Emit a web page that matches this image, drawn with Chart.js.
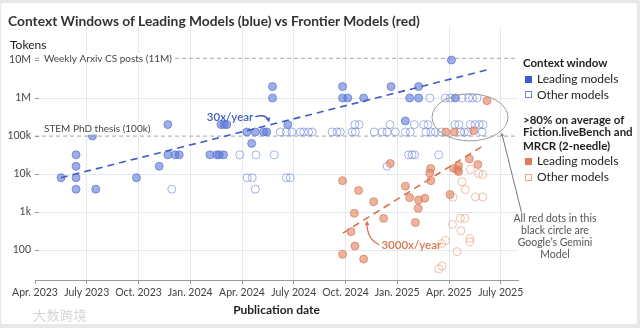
<!DOCTYPE html>
<html>
<head>
<meta charset="utf-8">
<script src="https://cdn.jsdelivr.net/npm/chart.js@4.4.1/dist/chart.umd.min.js"></script>
<style>
  html, body { margin: 0; padding: 0; background: #e8e8e8; }
  #wrap { position: relative; width: 640px; height: 328px; overflow: hidden; font-family: Lato, "Liberation Sans", sans-serif; }
  #card { position: absolute; left: 1px; top: 3px; width: 636px; height: 321px; background: #fff; border-radius: 3px; }
  #chart { position: absolute; left: 0; top: 0; }
  .abs { position: absolute; white-space: nowrap; }
  .title { left: 8px; top: 12px; font-size: 13.8px; font-weight: 700; color: #333; line-height: 18px; }
  .ylab { left: 10px; top: 37px; font-size: 12px; color: #1a1a1a; line-height: 16px; }
  .lg { left: 523px; font-size: 12px; color: #222; line-height: 14px; }
  .lg.head { font-weight: 700; font-size: 11.5px; color: #1f1f1f; }
  .sw { position: absolute; left: 525px; width: 7px; height: 7px; box-sizing: border-box; }
  .note { left: 505px; width: 100px; text-align: center; font-size: 10.5px; color: #555; line-height: 12px; white-space: normal; top: 212px; }
  .mark { left: 33px; top: 306px; font-family: "Noto Sans CJK SC", sans-serif; font-size: 13px; color: rgba(205,205,205,0.85); line-height: 18px; letter-spacing: 0.5px; }
</style>
</head>
<body>
<div id="wrap">
  <div id="card"></div>
  <canvas id="chart" width="640" height="328"></canvas>
  <div class="abs title">Context Windows of Leading Models (blue) vs Frontier Models (red)</div>
  <div class="abs ylab">Tokens</div>

  <div class="abs lg head" style="top:56px">Context window</div>
  <div class="sw" style="top:76px;background:#3d5bd0"></div>
  <div class="abs lg" style="left:537px;top:72px">Leading models</div>
  <div class="sw" style="top:91px;border:1px solid #6f84d8"></div>
  <div class="abs lg" style="left:537px;top:88px">Other models</div>

  <div class="abs lg head" style="top:113px">&gt;80% on average of</div>
  <div class="abs lg head" style="top:125px">Fiction.liveBench and</div>
  <div class="abs lg head" style="top:139px">MRCR (2-needle)</div>
  <div class="sw" style="top:158px;background:#e07a5a"></div>
  <div class="abs lg" style="left:537px;top:154px">Leading models</div>
  <div class="sw" style="top:174px;border:1px solid #eaa68d"></div>
  <div class="abs lg" style="left:537px;top:170px">Other models</div>

  <div class="abs note">All red dots in this black circle are Google’s Gemini Model</div>
  <div class="abs mark">大数跨境</div>
</div>

<script>
// Months are counted from April 2023 (0 = Apr. 2023).
const tickMonths = [0, 3, 6, 9, 12, 15, 18, 21, 24, 27];
const tickLabels = ['Apr. 2023', 'July 2023', 'Oct. 2023', 'Jan. 2024', 'Apr. 2024',
                    'July 2024', 'Oct. 2024', 'Jan. 2025', 'Apr. 2025', 'July 2025'];
const tokenTicks = [100, 1e3, 1e4, 1e5, 1e6, 1e7];
const tokenTickLabels = ['100', '1k', '10k', '100k', '1M', '10M'];

// Reference sizes drawn as dashed horizontal lines
const refTokens = [1.1e7, 1e5];
const refLabels = ['Weekly Arxiv CS posts (11M)', 'STEM PhD thesis (100k)'];

// Context window, leading models: [month, tokens]
const leadingContext = [
  [1.51, 8000], [2.38, 32000], [2.38, 16000], [2.38, 8000], [2.38, 4000],
  [3.33, 100000], [3.52, 4000], [5.88, 8000], [7.20, 16000], [7.70, 200000],
  [7.70, 32000], [8.12, 32000], [8.36, 32000], [10.14, 32000], [10.54, 32000],
  [10.68, 32000], [10.93, 32000], [10.78, 200000], [10.97, 200000], [11.12, 200000],
  [12.28, 128000], [12.77, 128000], [13.25, 128000], [13.43, 128000], [12.56, 64000],
  [13.77, 2000000], [13.77, 1000000], [14.65, 200000], [17.83, 2000000], [17.83, 1000000],
  [18.13, 1000000], [19.05, 1000000], [20.64, 2000000], [21.47, 250000], [21.72, 1000000],
  [22.24, 1000000], [22.24, 2000000], [24.14, 10000000], [24.37, 1000000]
];

// Context window, other models
const otherContext = [
  [7.93, 4000], [12.77, 4000],
  [12.30, 8000], [12.59, 8000], [14.57, 8000], [14.80, 8000],
  [20.41, 16000],
  [11.87, 32000], [12.81, 32000], [13.87, 32000], [21.66, 32000], [21.86, 32000],
  [22.01, 32000], [23.40, 32000],
  [14.22, 128000], [14.57, 128000], [14.90, 128000], [15.38, 128000], [15.58, 128000],
  [15.86, 128000], [16.07, 128000], [17.22, 128000], [17.51, 128000], [17.70, 128000],
  [18.38, 128000], [18.57, 128000], [19.67, 128000], [20.12, 128000], [20.41, 128000],
  [20.89, 128000], [21.47, 128000], [21.76, 128000], [22.66, 128000], [22.95, 128000],
  [23.21, 128000], [23.56, 128000], [24.66, 128000], [24.89, 128000], [25.10, 128000],
  [25.92, 128000],
  [18.54, 200000], [18.79, 200000], [20.58, 200000], [21.99, 200000], [22.54, 200000],
  [22.78, 200000], [24.34, 200000], [24.57, 200000], [25.24, 200000], [25.50, 200000],
  [25.75, 200000], [25.97, 200000],
  [22.89, 1000000], [23.79, 1000000], [24.08, 1000000], [24.76, 1000000],
  [25.14, 1000000], [25.36, 1000000], [25.63, 1000000]
];

// >80% on Fiction.liveBench and MRCR, leading models
const leadingRecall = [
  [17.83, 6700], [18.76, 3700], [19.63, 1870], [18.51, 925], [20.21, 683],
  [18.32, 303], [18.55, 127], [17.83, 77], [19.05, 58], [22.05, 530],
  [21.47, 4800], [21.72, 2400], [22.24, 2070], [22.60, 2300], [22.21, 1250],
  [20.60, 19000], [22.94, 14000], [22.88, 10600], [22.95, 6700], [24.06, 2900],
  [24.28, 14000], [24.49, 13000], [24.56, 16500], [24.56, 11600], [25.18, 25000],
  [25.67, 17800], [23.82, 128000], [24.31, 128000], [25.43, 138000], [26.20, 850000]
];

// >80% on Fiction.liveBench and MRCR, other models
const otherRecall = [
  [24.23, 2440], [24.75, 6300], [24.95, 3900], [25.24, 13300], [25.72, 10300],
  [25.96, 9700], [25.53, 2500], [25.96, 2500], [24.20, 474], [24.66, 683],
  [24.92, 683], [24.69, 322], [25.21, 203], [25.21, 165], [24.47, 91],
  [23.79, 178], [23.57, 148], [23.60, 38], [23.40, 32]
];

// Fitted growth lines (30x/year and 3000x/year)
const contextTrend = [[1.5, 8000], [26.2, 5.5e6]];
const recallTrend = [[17.85, 280], [26.05, 58000]];

const pts = arr => arr.map(([x, y]) => ({ x, y }));

const BLUE = '#3f5bc4';
const RED = '#d9744f';

function arrowHead(ctx, x, y, ang, size) {
  ctx.beginPath();
  ctx.moveTo(x, y);
  ctx.lineTo(x - size * Math.cos(ang - 0.5), y - size * Math.sin(ang - 0.5));
  ctx.lineTo(x - size * Math.cos(ang + 0.5), y - size * Math.sin(ang + 0.5));
  ctx.closePath();
  ctx.fill();
}

// Short tick marks on the token axis
const yTickMarks = {
  id: 'yTickMarks',
  afterDraw(chart) {
    const { ctx, chartArea, scales: { y } } = chart;
    ctx.save();
    ctx.strokeStyle = '#9a9a9a';
    ctx.lineWidth = 1;
    tokenTicks.forEach(v => {
      const py = Math.round(y.getPixelForValue(v)) + 0.5;
      ctx.beginPath();
      ctx.moveTo(chartArea.left, py);
      ctx.lineTo(chartArea.left + 4, py);
      ctx.stroke();
    });
    ctx.restore();
  }
};

// Text and shapes that annotate the plot
const annotations = {
  id: 'annotations',
  afterDatasetsDraw(chart) {
    const { ctx, chartArea, scales: { x, y } } = chart;
    ctx.save();
    ctx.font = '10px Lato, "Liberation Sans", sans-serif';
    ctx.textBaseline = 'middle';
    ctx.textAlign = 'left';

    // Reference line labels
    const lx = chartArea.left + 9;
    const dy = [0.5, -7.5];
    refLabels.forEach((t, i) => {
      const py = y.getPixelForValue(refTokens[i]) + dy[i];
      const w = ctx.measureText(t).width;
      ctx.fillStyle = '#fff';
      ctx.fillRect(lx - 3, py - 6, w + 6, 12);
      ctx.fillStyle = '#444';
      ctx.fillText(t, lx, py);
    });

    // Growth labels with curved arrows
    ctx.font = '600 11.5px Lato, "Liberation Sans", sans-serif';
    const bx = x.getPixelForValue(9.96), by = y.getPixelForValue(3.03e5);
    ctx.fillStyle = BLUE;
    ctx.fillText('30x/year', bx, by);
    const bw = ctx.measureText('30x/year').width;
    ctx.strokeStyle = BLUE;
    ctx.lineWidth = 1.3;
    ctx.beginPath();
    ctx.moveTo(bx + bw + 2, by - 1);
    ctx.quadraticCurveTo(bx + bw + 12, by - 4, bx + bw + 15, by + 2);
    ctx.stroke();
    arrowHead(ctx, bx + bw + 16, by + 4.5, Math.atan2(6, 2), 5);

    const rx = x.getPixelForValue(20.08), ry = y.getPixelForValue(130);
    ctx.fillStyle = RED;
    ctx.fillText('3000x/year', rx, ry);
    ctx.strokeStyle = RED;
    ctx.beginPath();
    ctx.moveTo(rx - 2, ry - 1);
    ctx.quadraticCurveTo(rx - 14, ry - 6, rx - 14.5, ry - 22);
    ctx.stroke();
    arrowHead(ctx, rx - 14.5, ry - 25, -Math.PI / 2 - 0.05, 5);

    // Ellipse around the Gemini results and its leader line
    const ex = x.getPixelForValue(25.22), ey = y.getPixelForValue(3.1e5);
    const erx = 38, ery = 23.5;
    ctx.strokeStyle = '#9c9c9c';
    ctx.fillStyle = '#8a8a8a';
    ctx.lineWidth = 1;
    ctx.beginPath();
    ctx.ellipse(ex, ey, erx, ery, 0, 0, Math.PI * 2);
    ctx.stroke();
    const th = 0.62;
    const sx = ex + erx * Math.cos(th), sy = ey + ery * Math.sin(th);
    ctx.strokeStyle = '#777';
    ctx.beginPath();
    ctx.moveTo(sx + 1, sy + 3);
    ctx.lineTo(ex + 51.5, ey + 95);
    ctx.stroke();
    arrowHead(ctx, sx + 0.5, sy + 1.5, Math.atan2(-76, -20), 4);

    ctx.restore();
  }
};

const gridColor = '#e3e9ed';

new Chart(document.getElementById('chart'), {
  type: 'scatter',
  data: {
    datasets: [
      { data: pts(contextTrend), showLine: true, borderColor: BLUE, borderWidth: 1.6,
        borderDash: [7, 5], pointRadius: 0, fill: false },
      { data: pts(recallTrend), showLine: true, borderColor: RED, borderWidth: 1.6,
        borderDash: [7, 5], pointRadius: 0, fill: false },
      { data: pts(leadingRecall), pointRadius: 4, borderWidth: 1,
        backgroundColor: 'rgba(224,134,102,0.62)', borderColor: 'rgba(214,122,90,0.7)' },
      { data: pts(otherRecall), pointRadius: 4, borderWidth: 1,
        backgroundColor: 'rgba(255,255,255,0)', borderColor: 'rgba(226,140,110,0.55)' },
      { data: pts(leadingContext), pointRadius: 4, borderWidth: 1,
        backgroundColor: 'rgba(98,124,216,0.62)', borderColor: 'rgba(90,116,210,0.7)' },
      { data: pts(otherContext), pointRadius: 4, borderWidth: 1,
        backgroundColor: 'rgba(255,255,255,0)', borderColor: 'rgba(104,128,214,0.6)' },
      ...refTokens.map(v => ({
        data: [{ x: 0, y: v }, { x: 28, y: v }], showLine: true, borderColor: '#b8b8b8',
        borderWidth: 1.2, borderDash: [4, 3], pointRadius: 0, fill: false
      }))
    ]
  },
  options: {
    responsive: false,
    animation: false,
    devicePixelRatio: 1,
    layout: { padding: { top: 27, right: 122, bottom: 0, left: 0 } },
    plugins: { legend: { display: false }, tooltip: { enabled: false } },
    scales: {
      x: {
        type: 'linear', min: 0, max: 28,
        afterBuildTicks: s => { s.ticks = tickMonths.map(v => ({ value: v })); },
        afterFit: s => { s.height = 48; },
        ticks: {
          autoSkip: false, maxRotation: 0, padding: 2, color: '#444',
          font: { family: 'Lato', size: 10.5 },
          callback: v => tickLabels[tickMonths.indexOf(v)]
        },
        grid: {
          color: c => (c.tick && c.tick.value === 0) ? 'rgba(0,0,0,0)' : gridColor,
          tickColor: '#9a9a9a', tickLength: 4, drawTicks: true
        },
        border: { display: true, color: '#9a9a9a', width: 1 },
        title: {
          display: true, text: 'Publication date', color: '#1f1f1f',
          font: { family: 'Lato', size: 12, weight: 'bold' },
          padding: { top: 0, bottom: 11 }
        }
      },
      y: {
        type: 'logarithmic', min: 16.3, max: 7.4e7,
        afterBuildTicks: s => { s.ticks = tokenTicks.map(v => ({ value: v })); },
        afterFit: s => { s.width = 35; },
        ticks: {
          padding: 4, color: '#444', font: { family: 'Lato', size: 10.5 },
          callback: v => tokenTickLabels[tokenTicks.indexOf(v)]
        },
        grid: {
          color: c => (c.tick && (c.tick.value === 1e7 || c.tick.value === 1e5)) ? 'rgba(0,0,0,0)' : gridColor,
          drawTicks: false
        },
        border: { display: false }
      }
    }
  },
  plugins: [yTickMarks, annotations]
});
</script>
</body>
</html>
